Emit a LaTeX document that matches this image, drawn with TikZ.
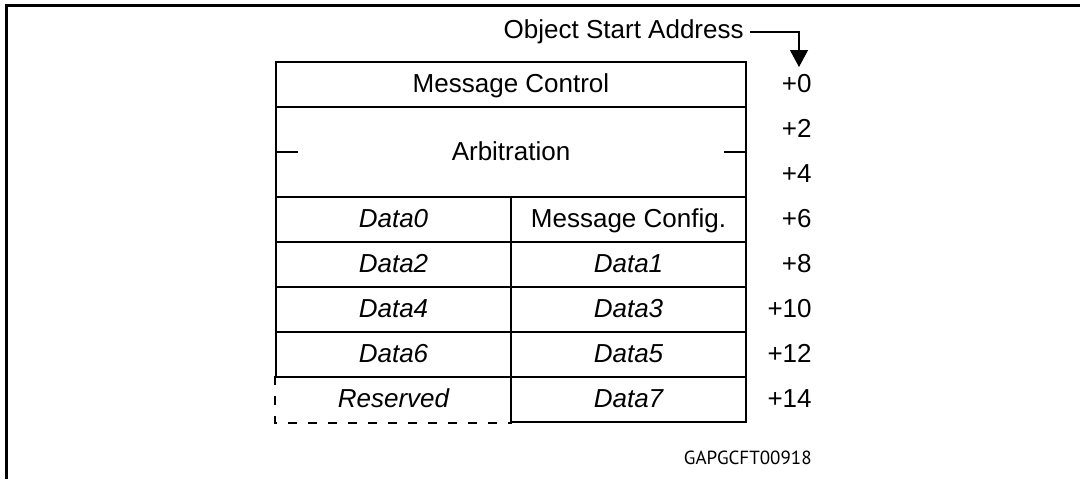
\documentclass[tikz,border=0pt]{standalone}
\usepackage{fontspec}
\setmainfont{Liberation Sans}
\newfontfamily\codefont{PT Sans}
\usetikzlibrary{arrows.meta}

\tikzset{
  cell/.style={draw, line width=1pt, inner sep=0pt, minimum height=22.5pt,
               text height=9.4pt, text depth=1pt},
  wide/.style={cell, minimum width=235pt},
  half/.style={cell, minimum width=117.5pt},
  offset/.style={anchor=east, inner sep=0pt, text height=9.4pt, text depth=1pt},
}

\begin{document}
\begin{tikzpicture}[x=0.5pt, y=-0.5pt, font=\fontsize{13}{15}\selectfont]
    \useasboundingbox (0,0) rectangle (1080,479);

    % frame
    \draw[line width=1.5pt] (6,479) -- (6,5) -- (1080,5);

    % start address pointer
    \node[anchor=east, inner sep=3pt] (osa) at (750,32) {Object Start Address};
    \coordinate (tip) at (799,67);
    \draw[line width=0.6pt, -{Triangle[width=9pt, length=8.5pt]}] (osa.east) -| (tip);

    % header rows
    \node[wide] (mc)  at (511,84.5) {Message Control};
    \node[wide, minimum height=45pt] (arb) at (511,152) {Arbitration};
    \draw[line width=1pt] (arb.west) -- ++(23,0);
    \draw[line width=1pt] (arb.east) -- ++(-23,0);

    \node[offset] (o0) at (812,84.5)  {+0};
    \node[offset] (o2) at (812,129.5) {+2};
    \node[offset] (o4) at (812,174.5) {+4};

    % data rows
    \foreach \y/\l/\r/\o in {219.5/Data0/{\upshape Message Config.}/6,
                             264.5/Data2/Data1/8,
                             309.5/Data4/Data3/10,
                             354.5/Data6/Data5/12}{
      \node[half, font=\fontsize{13}{15}\selectfont\itshape] (l\o) at (393.5,\y) {\l};
      \node[half, font=\fontsize{13}{15}\selectfont\itshape] (r\o) at (628.5,\y) {\r};
      \node[offset] (o\o) at (812,\y) {+\o};
    }

    % last row, reserved half left open
    \node[half, draw=none, font=\fontsize{13}{15}\selectfont\itshape] (res) at (393.5,399.5) {Reserved};
    \node[half, font=\fontsize{13}{15}\selectfont\itshape] (r14) at (628.5,399.5) {Data7};
    \node[offset] (o14) at (812,399.5) {+14};
    \draw[line width=1pt, dash pattern=on 4.5pt off 5.5pt] (res.north west) -- (res.south west) -- (res.south east);

    \node[anchor=east, inner sep=0pt, font=\codefont\fontsize{9.5}{11}\selectfont] (code) at (812,458) {GAPGCFT00918};
\end{tikzpicture}
\end{document}
